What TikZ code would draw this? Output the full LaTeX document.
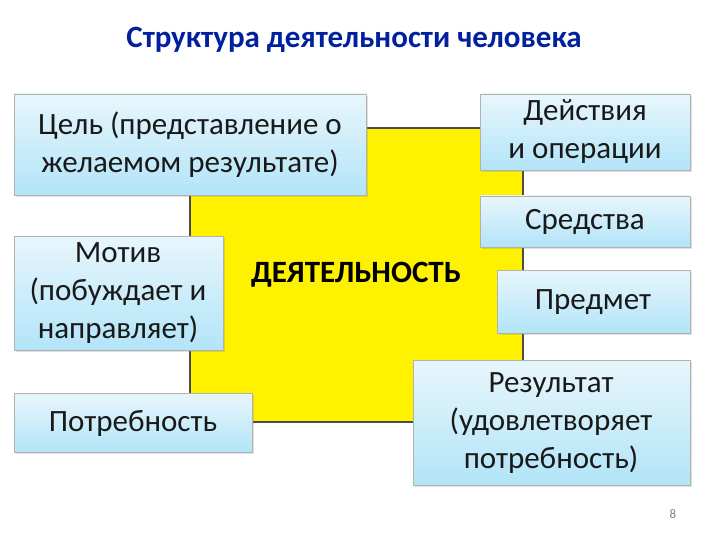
\documentclass[tikz,border=0pt]{standalone}
\usepackage{fontspec}
\setmainfont{Carlito}
\usetikzlibrary{shadows}
\definecolor{boxtop}{RGB}{232,246,252}
\definecolor{boxbot}{RGB}{178,228,248}
\begin{document}
\begin{tikzpicture}[x=1pt,y=-1pt,
  bx/.style={draw=gray!60,top color=boxtop,bottom color=boxbot,drop shadow={opacity=0.25,shadow xshift=2pt,shadow yshift=-2pt}},
  tx/.style={font=\fontsize{31}{38}\selectfont,align=center,text=black!90}]
\useasboundingbox (0,0) rectangle (720,540);
\fill[white] (0,0) rectangle (720,540);
\node[font=\bfseries\fontsize{31}{36}\selectfont,text={rgb,255:red,0;green,32;blue,160}] (title) at (354,40) {Структура деятельности человека};
\draw[fill=yellow,draw=black!70,line width=1.5pt] (190,128) rectangle (523,422);
\node[font=\bfseries\fontsize{31}{36}\selectfont] (act) at (356,275) {ДЕЯТЕЛЬНОСТЬ};
\path[bx] (14,94) rectangle (366,195); \node[tx] (goal) at (190,145) {Цель (представление о\\желаемом результате)};
\path[bx] (480,94) rectangle (690,170); \node[tx] (acts) at (585,132) {Действия\\и операции};
\path[bx] (480,196) rectangle (690,247); \node[tx] (means) at (585,222) {Средства};
\path[bx] (14,236) rectangle (223,350); \node[tx] (motive) at (118,293) {Мотив\\(побуждает и\\направляет)};
\path[bx] (497,270) rectangle (690,333); \node[tx] (obj) at (593,302) {Предмет};
\path[bx] (14,393) rectangle (252,452); \node[tx] (need) at (133,423) {Потребность};
\path[bx] (413,360) rectangle (690,485); \node[tx] (res) at (551,423) {Результат\\(удовлетворяет\\потребность)};
\node[font=\fontsize{13}{15}\selectfont,text=gray] (pg) at (673,514) {8};
\end{tikzpicture}
\end{document}
